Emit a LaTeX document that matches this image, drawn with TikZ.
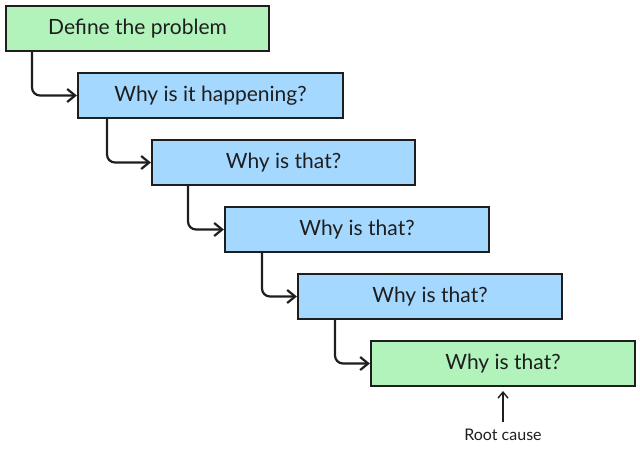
\documentclass[tikz,border=0pt]{standalone}
\usepackage{fontspec}
\setmainfont{Lato}
\usetikzlibrary{arrows.meta}
\definecolor{gbox}{HTML}{B2F2BB}
\definecolor{bbox}{HTML}{A5D8FF}
\definecolor{ink}{HTML}{1E1E1E}
\tikzset{
  whybox/.style={draw=ink, line width=2.2pt, minimum width=264pt, minimum height=45pt, inner sep=0pt, font=\fontsize{21}{24}\selectfont, text=ink},
  link/.style={draw=ink, line width=2.2pt, rounded corners=8pt, -{Straight Barb[length=8pt,width=13pt,line width=2.2pt]}},
}
\begin{document}
\begin{tikzpicture}[x=1pt,y=-1pt]
\useasboundingbox (0,0) rectangle (640,451);
\node[whybox, fill=gbox, minimum width=263pt] (b1) at (137.5,28.5) {Define the problem};
\node[whybox, fill=bbox, minimum width=265pt] (b2) at (210.5,95.5) {Why is it happening?};
\node[whybox, fill=bbox, minimum width=263pt] (b3) at (283.5,162.5) {Why is that?};
\node[whybox, fill=bbox] (b4) at (357,229.5) {Why is that?};
\node[whybox, fill=bbox] (b5) at (430,296.5) {Why is that?};
\node[whybox, fill=gbox] (b6) at (503,363.5) {Why is that?};
\node[font=\fontsize{16}{18}\selectfont, text=ink] (rc) at (503,435) {Root cause};
\coordinate (c1) at (32,51);
\coordinate (c2) at (107,118);
\coordinate (c3) at (188,185);
\coordinate (c4) at (262,252);
\coordinate (c5) at (335,319);
\draw[link] (c1) |- (b2.west);
\draw[link] (c2) |- (b3.west);
\draw[link] (c3) |- (b4.west);
\draw[link] (c4) |- (b5.west);
\draw[link] (c5) |- (b6.west);
\draw[draw=ink, line width=1.4pt, -{Straight Barb[length=6pt,width=10pt,line width=1.4pt]}] (503,422) -- (503,391);
\end{tikzpicture}
\end{document}
